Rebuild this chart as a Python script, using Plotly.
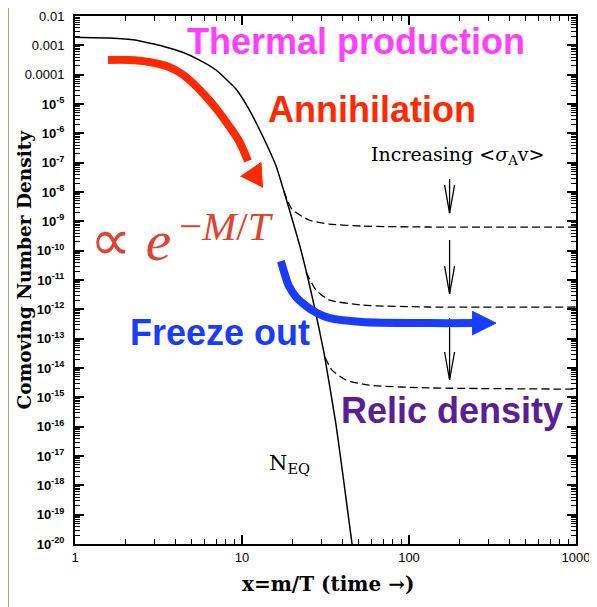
import plotly.graph_objects as go

# ---------------- data ----------------
# equilibrium curve N_EQ
neq_x = [1.0, 1.6, 2.29, 2.77, 3.32, 4.37, 5.53, 6.99, 9.2, 11.0, 13.2, 16.0, 17.8, 22.6, 27.0, 31.0, 36.6, 40.8, 45.6]
neq_y = [1.9e-3, 1.78e-3, 1.52e-3, 1.2e-3, 9.5e-4, 5.9e-4, 3.2e-4, 1.44e-4, 3.24e-5, 6.7e-6, 8.8e-7, 7.7e-8,
         1.08e-8, 9.8e-11, 1.4e-12, 3.2e-14, 1.13e-16, 1.2e-18, 1e-20]

# freeze-out curves (dashed), increasing <sigma v>
fo1_x = [17.8, 19.9, 25.2, 33.2, 52.3, 131.8, 1000]
fo1_y = [1.08e-8, 2.6e-9, 1.11e-9, 8.1e-10, 6.9e-10, 6.4e-10, 6.4e-10]
fo2_x = [24.2, 27.7, 33.2, 52.3, 131.8, 1000]
fo2_y = [1.86e-11, 4.6e-12, 2.1e-12, 1.4e-12, 1.2e-12, 1.2e-12]
fo3_x = [31.4, 34.6, 42.0, 57.5, 131.8, 1000]
fo3_y = [2.3e-14, 8.5e-15, 3.9e-15, 2.6e-15, 2.1e-15, 1.9e-15]

# red "annihilation" arrow
red_x = [1.577, 2.105, 2.775, 3.655, 4.37, 5.30, 6.35, 7.28, 8.36, 9.60, 10.86]
red_y = [3.16e-4, 3.16e-4, 2.7e-4, 1.82e-4, 1.05e-4, 4.1e-5, 1.37e-5, 5.3e-6, 1.78e-6, 5.5e-7, 1.14e-7]
red_head_x = [9.79, 13.0, 13.27]
red_head_y = [3.37e-8, 1.01e-7, 1.42e-8]

# blue "freeze out" arrow
blue_x = [17.1, 18.1, 19.1, 21.1, 24.2, 28.1, 33.2, 52.3, 131.8, 245]
blue_y = [4.4e-11, 1.48e-11, 6.2e-12, 2.6e-12, 1.3e-12, 7.5e-13, 5.1e-13, 3.7e-13, 3.4e-13, 3.4e-13]
blue_head_x = [238.5, 331.9, 238.5]
blue_head_y = [8.7e-13, 3.4e-13, 1.33e-13]

# vertical "increasing <sigma v>" arrows
varrow_x = 175
varrow_top = [2.77e-8, 2.31e-10, 5.0e-13]
varrow_tip = [1.92e-9, 3.33e-12, 3.9e-15]

# axis ticks
x_tickvals = [1, 10, 100, 1000]
x_ticktext = ["1", "10", "100", "1000"]
y_exponents = list(range(-2, -21, -1))

# ---------------- figure ----------------
def ytext(e):
    if e == -2:
        return "0.01"
    if e == -3:
        return "0.001"
    if e == -4:
        return "0.0001"
    return "<b>10</b><sup><b>-%d</b></sup>" % (-e)

y_tickvals = [10.0 ** e for e in y_exponents]
y_ticktext = [ytext(e) for e in y_exponents]
y_minor = [k * 10.0 ** e for e in range(-20, -2) for k in range(2, 10)]
x_minor = [k * 10.0 ** e for e in range(0, 3) for k in range(2, 10)]

fig = go.Figure()

fig.add_trace(go.Scatter(x=neq_x, y=neq_y, mode="lines",
                         line=dict(color="black", width=1.5, shape="spline", smoothing=0.4)))
for fx, fy in [(fo1_x, fo1_y), (fo2_x, fo2_y), (fo3_x, fo3_y)]:
    fig.add_trace(go.Scatter(x=fx, y=fy, mode="lines",
                             line=dict(color="black", width=1.3, dash="8px,4px",
                                       shape="spline", smoothing=0.6)))

# vertical arrows with open V heads
ax_, ay_ = [], []
for top, tip in zip(varrow_top, varrow_tip):
    ax_ += [varrow_x, varrow_x, None,
            varrow_x / 1.071, varrow_x, varrow_x * 1.071, None]
    ay_ += [top, tip, None, tip * 9.0, tip, tip * 9.0, None]
fig.add_trace(go.Scatter(x=ax_, y=ay_, mode="lines",
                         line=dict(color="black", width=1.3)))

RED = "#ff2a00"
BLUE = "#1a3cff"
fig.add_trace(go.Scatter(x=red_x, y=red_y, mode="lines",
                         line=dict(color=RED, width=8, shape="spline", smoothing=0.8)))
fig.add_trace(go.Scatter(x=red_head_x, y=red_head_y, mode="lines", fill="toself",
                         fillcolor=RED, line=dict(color=RED, width=1)))
fig.add_trace(go.Scatter(x=blue_x, y=blue_y, mode="lines",
                         line=dict(color=BLUE, width=8, shape="spline", smoothing=0.8)))
fig.add_trace(go.Scatter(x=blue_head_x, y=blue_head_y, mode="lines", fill="toself",
                         fillcolor=BLUE, line=dict(color=BLUE, width=1)))

axis_common = dict(showline=True, linecolor="black", linewidth=2, mirror="ticks",
                   ticks="inside", ticklen=9, tickwidth=1.5, tickcolor="black",
                   showgrid=False, zeroline=False, automargin=False)

SERIF = "DejaVu Serif"
fig.update_xaxes(type="log", range=[0, 3], tickmode="array",
                 tickvals=x_tickvals, ticktext=x_ticktext,
                 tickfont=dict(family="Liberation Sans", size=13, color="black"),
                 minor=dict(tickmode="array", tickvals=x_minor, ticks="inside",
                            ticklen=5, tickwidth=1.2, tickcolor="black", showgrid=False),
                 **axis_common)
fig.update_yaxes(type="log", range=[-20, -2], tickmode="array",
                 tickvals=y_tickvals, ticktext=y_ticktext,
                 tickfont=dict(family="Liberation Sans", size=13, color="black"),
                 ticklabelstandoff=6,
                 minor=dict(tickmode="array", tickvals=y_minor, ticks="inside",
                            ticklen=5, tickwidth=1.2, tickcolor="black", showgrid=False),
                 **axis_common)

BOLD = "Liberation Sans"
annots = [
    dict(text="<b>Thermal production</b>", x=0.560, y=0.951, font=dict(family=BOLD, size=36, color="#ff40ff")),
    dict(text="<b>Annihilation</b>", x=0.593, y=0.822, font=dict(family=BOLD, size=36, color=RED)),
    dict(text="<b>Freeze out</b>", x=0.289, y=0.400, font=dict(family=BOLD, size=36, color=BLUE)),
    dict(text="<b>Relic density</b>", x=0.752, y=0.252, font=dict(family=BOLD, size=36, color="#5a1e96")),
    dict(text="Increasing &lt;<i>\u03c3</i><sub>A</sub>v&gt;", x=0.7635, y=0.735,
         font=dict(family=SERIF, size=19, color="black")),
    dict(text="N<sub>EQ</sub>", x=0.429, y=0.1515,
         font=dict(family=SERIF, size=21, color="black")),
    # axis titles
    dict(text="<b>x=m/T (time \u2192)</b>", x=0.505, y=-0.0758,
         font=dict(family=SERIF, size=20, color="black")),
    dict(text="<b>Comoving Number Density</b>", x=-0.1008, y=0.521, textangle=-90,
         font=dict(family=SERIF, size=18.5, color="black")),
]
for a in annots:
    fig.add_annotation(xref="paper", yref="paper", showarrow=False,
                       xanchor="center", yanchor="middle", **a)
# proportional-to e^{-M/T}
fig.add_annotation(xref="paper", yref="paper", showarrow=False, xanchor="left", yanchor="middle",
                   x=0.026, y=0.574, text="\u221d <i>e</i>",
                   font=dict(family="Liberation Serif", size=58, color="#dd4433"))
fig.add_annotation(xref="paper", yref="paper", showarrow=False, xanchor="left", yanchor="middle",
                   x=0.2036, y=0.602, text="\u2212<i>M</i>/<i>T</i>",
                   font=dict(family="Liberation Serif", size=41, color="#dd4433"))

# white page over olive frame
fig.add_shape(type="rect", xref="paper", yref="paper", x0=-0.1317, x1=1.08, y0=-0.16, y1=1.017,
              fillcolor="white", line=dict(width=0), layer="below")

fig.update_layout(width=597, height=607, margin=dict(l=67, r=29, t=8, b=71, autoexpand=False),
                  paper_bgcolor="#a7a47e", plot_bgcolor="rgba(0,0,0,0)",
                  showlegend=False)

fig.write_html("out.html")
